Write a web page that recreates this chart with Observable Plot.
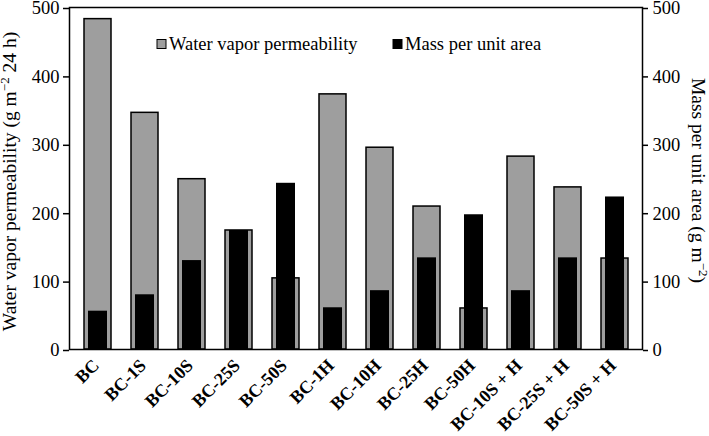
<!DOCTYPE html>
<html><head><meta charset="utf-8">
<script src="https://cdn.jsdelivr.net/npm/d3@7"></script>
<script src="https://cdn.jsdelivr.net/npm/@observablehq/plot@0.6"></script>
<style>body{margin:0;background:#fff} svg{display:block} svg text{font-family:"Liberation Serif","Times New Roman",serif}</style>
</head><body><div id="chart"></div>
<script>
const categories = ["BC","BC-1S","BC-10S","BC-25S","BC-50S","BC-1H","BC-10H","BC-25H","BC-50H","BC-10S + H","BC-25S + H","BC-50S + H"];
const waterVaporPermeability = [483,346,249,174,104,373,295,209,60,282,237,133];
const massPerUnitArea = [56,80,130,174,243,61,86,134,197,86,134,223];
const yTicks = [0,100,200,300,400,500];
const seriesNames = ["Water vapor permeability","Mass per unit area"];
const leftLabel = "Water vapor permeability (g m|−2| 24 h)";
const rightLabel = "Mass per unit area (g m|−2|)";

const data = categories.map((c,i)=>({c, wvp: waterVaporPermeability[i], mass: massPerUnitArea[i]}));
const font = "Liberation Serif, Times New Roman, serif";
const grey = "#9e9e9e";
const chart = Plot.plot({
  width: 709, height: 436,
  marginLeft: 69, marginRight: 67, marginTop: 7, marginBottom: 87,
  style: {fontFamily: font, fontSize: "18.5px", color: "#000", background: "#fff"},
  x: {domain: categories, padding: 0},
  y: {domain: [0,500]},
  marks: [
    Plot.barY(data, {x:"c", y:"wvp", fill:grey, stroke:"#000", strokeWidth:1.5, insetLeft:10, insetRight:10}),
    Plot.barY(data, {x:"c", y:"mass", fill:"#000", insetLeft:14, insetRight:14}),
    Plot.frame({stroke:"#000", strokeWidth:1.5}),
    Plot.axisY(yTicks, {anchor:"left", tickSize:6, tickPadding:4, label:null, fontSize:18.5, fontFamily:font, strokeWidth:1.5, dy:1}),
    Plot.axisY(yTicks, {anchor:"right", tickSize:5, tickPadding:5, label:null, fontSize:18.5, fontFamily:font, strokeWidth:1.5, dy:1}),
    Plot.axisX({tickRotate:-45, tickSize:0, tickPadding:13, dx:-2, fontWeight:"bold", fontSize:18, fontFamily:font, label:null}),
    Plot.text([leftLabel], {frameAnchor:"left", textAnchor:"middle", dx:-60, dy:3, rotate:-90, fontSize:19.5, fontFamily:font}),
    Plot.text([rightLabel], {frameAnchor:"right", textAnchor:"middle", dx:56, dy:2, rotate:90, fontSize:19.5, fontFamily:font})
  ]
});
document.getElementById("chart").appendChild(chart);

// superscripts in axis labels
d3.select(chart).selectAll("text").each(function(){
  const t = d3.select(this);
  const s = t.text();
  if (!s.includes("|")) return;
  const parts = s.split("|");
  t.text(null);
  parts.forEach((p,i)=>{
    if (!p) return;
    const ts = t.append("tspan").text(p);
    if (i % 2 === 1) { ts.attr("dy","-7").attr("font-size","13"); }
    else if (i > 0) { ts.attr("dy","7"); }
  });
});

// legend inside the plot
const svg = d3.select(chart);
const legend = svg.append("g").attr("font-family", font).attr("font-size", 18.5).attr("text-anchor","start");
const legendItems = [{x:157, fill:grey, label: seriesNames[0]},{x:393, fill:"#000", label: seriesNames[1]}];
legendItems.forEach(d=>{
  legend.append("rect").attr("x", d.x).attr("y", 39.5).attr("width", 9).attr("height", 9)
    .attr("fill", d.fill).attr("stroke", "#000").attr("stroke-width", 1);
  legend.append("text").attr("x", d.x + 12).attr("y", 49.5).text(d.label);
});
</script></body></html>
